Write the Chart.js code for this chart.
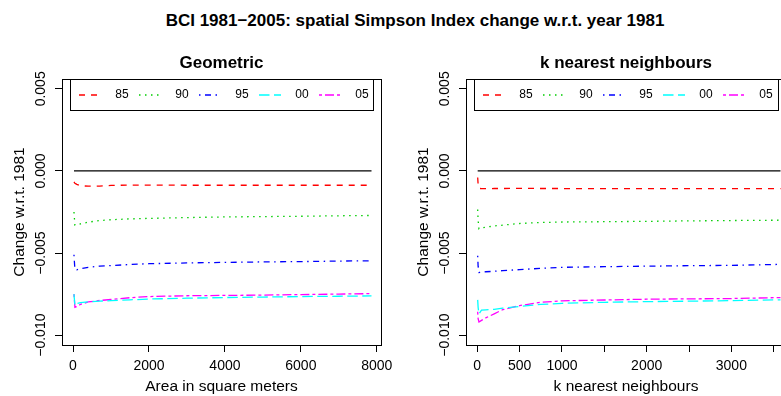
<!DOCTYPE html>
<html>
<head>
<meta charset="utf-8">
<title>BCI Simpson index change</title>
<script src="https://cdn.jsdelivr.net/npm/chart.js@4.4.1/dist/chart.umd.min.js"></script>
<style>
  html, body { margin: 0; padding: 0; background: #fff; overflow: hidden; }
  body { width: 781px; height: 396px; position: relative; }
  #main-title {
    position: absolute; left: 0; top: 10px; width: 830px; text-align: center;
    font: bold 17px "Liberation Sans", Arial, sans-serif; line-height: 21px; color: #000;
  }
  canvas { position: absolute; top: 0; }
  #geo-chart { left: 0; }
  #knn-chart { left: 404px; }
</style>
</head>
<body>
<div id="main-title">BCI 1981−2005: spatial Simpson Index change w.r.t. year 1981</div>
<canvas id="geo-chart" width="404" height="396"></canvas>
<canvas id="knn-chart" width="405" height="396"></canvas>
<script>
// DATA

const seriesLabels = ["85", "90", "95", "00", "05"];
const seriesColors = ["#FF0000", "#00CD00", "#0000FF", "#00FFFF", "#FF00FF"];
const seriesDashes = [[6, 6], [1.5, 4.5], [1.5, 4.5, 6, 4.5], [10.5, 4.5], [3, 3, 9, 3]];

const yTicks = [-0.010, -0.005, 0.000, 0.005];

// Geometric panel: area in square meters
const geoArea = [25, 50, 100, 200, 400, 700, 1000, 1500, 2000, 3000, 4000, 5000, 6000, 7000, 7860];
const geoBase = [0, 0, 0, 0, 0, 0, 0, 0, 0, 0, 0, 0, 0, 0, 0];
const geo85 = [-0.00067, -0.00075, -0.00082, -0.00090, -0.00093, -0.00092, -0.00088, -0.00086, -0.00086, -0.00087, -0.00087, -0.00087, -0.00087, -0.00087, -0.00087];
const geo90 = [-0.00250, -0.00330, -0.00330, -0.00322, -0.00312, -0.00302, -0.00297, -0.00292, -0.00289, -0.00284, -0.00280, -0.00278, -0.00276, -0.00273, -0.00271];
const geo95 = [-0.00510, -0.00600, -0.00602, -0.00595, -0.00587, -0.00580, -0.00576, -0.00570, -0.00565, -0.00560, -0.00557, -0.00554, -0.00552, -0.00549, -0.00547];
const geo00 = [-0.00750, -0.00820, -0.00808, -0.00802, -0.00797, -0.00793, -0.00790, -0.00785, -0.00780, -0.00775, -0.00771, -0.00768, -0.00765, -0.00763, -0.00761];
const geo05 = [-0.00750, -0.00830, -0.00826, -0.00812, -0.00798, -0.00789, -0.00783, -0.00772, -0.00765, -0.00760, -0.00758, -0.00756, -0.00753, -0.00750, -0.00747];
const geoTicks = [0, 2000, 4000, 6000, 8000];
const geoTickLabels = ["0", "2000", "4000", "6000", "8000"];

// k nearest neighbours panel
const knnK = [5, 10, 20, 50, 100, 200, 300, 500, 750, 1000, 1500, 2000, 2500, 3000, 3580];
const knnBase = [0, 0, 0, 0, 0, 0, 0, 0, 0, 0, 0, 0, 0, 0, 0];
const knn85 = [-0.00040, -0.00080, -0.00106, -0.00108, -0.00108, -0.00107, -0.00107, -0.00106, -0.00107, -0.00107, -0.00108, -0.00108, -0.00108, -0.00108, -0.00108];
const knn90 = [-0.00235, -0.00300, -0.00353, -0.00348, -0.00343, -0.00335, -0.00330, -0.00320, -0.00314, -0.00311, -0.00309, -0.00307, -0.00304, -0.00302, -0.00300];
const knn95 = [-0.00516, -0.00580, -0.00618, -0.00616, -0.00614, -0.00611, -0.00607, -0.00601, -0.00593, -0.00587, -0.00583, -0.00580, -0.00577, -0.00575, -0.00569];
const knn00 = [-0.00785, -0.00830, -0.00870, -0.00848, -0.00846, -0.00843, -0.00836, -0.00825, -0.00813, -0.00806, -0.00800, -0.00796, -0.00793, -0.00790, -0.00785];
const knn05 = [-0.00857, -0.00900, -0.00920, -0.00910, -0.00895, -0.00870, -0.00845, -0.00820, -0.00800, -0.00791, -0.00786, -0.00781, -0.00779, -0.00777, -0.00771];
const knnTicks = [0, 500, 1000, 1500, 2000, 2500, 3000, 3500];
const knnTickLabels = ["0", "500", "1000", "", "2000", "", "3000", ""];

const FONT = "'Liberation Sans', Arial, sans-serif";
Chart.defaults.font.family = FONT;
Chart.defaults.color = "#000";

function toPoints(xs, ys) {
  return xs.map((x, i) => ({ x: x, y: ys[i] }));
}

// R style box around the plot region + horizontal legend at the top
const rBoxPlugin = {
  id: "rBox",
  afterDatasetsDraw(chart) {
    const { ctx, chartArea: a } = chart;
    ctx.save();
    ctx.strokeStyle = "#000";
    ctx.lineWidth = 1;
    ctx.strokeRect(Math.round(a.left) + 0.5, Math.round(a.top) + 0.5,
      Math.round(a.right - a.left), Math.round(a.bottom - a.top));

    // legend
    const left = Math.round(a.left) + 8;
    const right = Math.round(a.right) - 8;
    const top = Math.round(a.top);
    ctx.strokeRect(left + 0.5, top + 0.5, right - left, 31);
    const yMid = top + 16;
    seriesLabels.forEach((label, k) => {
      const cx = left + 20 + 60 * k;
      ctx.beginPath();
      ctx.strokeStyle = seriesColors[k];
      ctx.lineWidth = 1.6;
      ctx.setLineDash(seriesDashes[k]);
      ctx.moveTo(cx - 11, yMid);
      ctx.lineTo(cx + 11, yMid);
      ctx.stroke();
      ctx.setLineDash([]);
      ctx.fillStyle = "#000";
      ctx.font = "12px " + FONT;
      ctx.textAlign = "center";
      ctx.textBaseline = "middle";
      ctx.fillText(label, cx + 32, yMid);
    });
    ctx.restore();
  }
};

function makePanel(canvasId, title, xTitle, xs, base, series, xMin, xMax, xTicks, xLabels) {
  const ctx = document.getElementById(canvasId).getContext("2d");

  // 1981 reference line (change = 0)
  const datasets = [{
    label: "81",
    data: toPoints(xs, base),
    borderColor: "#000",
    borderWidth: 1.3,
    borderDash: []
  }];
  series.forEach((ys, i) => {
    datasets.push({
      label: seriesLabels[i],
      data: toPoints(xs, ys),
      borderColor: seriesColors[i],
      borderWidth: 1.3,
      borderDash: seriesDashes[i]
    });
  });

  return new Chart(ctx, {
    type: "line",
    data: { datasets: datasets },
    plugins: [rBoxPlugin],
    options: {
      responsive: false,
      animation: false,
      events: [],
      elements: { point: { radius: 0 }, line: { tension: 0, fill: false } },
      layout: { padding: { left: 0, right: 23, top: 0, bottom: 0 } },
      plugins: {
        legend: { display: false },
        tooltip: { enabled: false },
        title: {
          display: true,
          text: title,
          fullSize: false,
          color: "#000",
          font: { size: 17, weight: "bold" },
          padding: { top: 52.8, bottom: 5.8 }
        }
      },
      scales: {
        x: {
          type: "linear",
          min: xMin,
          max: xMax,
          afterBuildTicks: s => { s.ticks = xTicks.map(v => ({ value: v })); },
          afterFit: s => { s.height = 51; },
          ticks: {
            autoSkip: false,
            maxRotation: 0,
            padding: 6,
            font: { size: 14 },
            callback: (value) => xLabels[xTicks.indexOf(value)]
          },
          grid: { drawOnChartArea: false, drawTicks: true, tickLength: 7, tickColor: "#000" },
          border: { display: true, color: "#000" },
          title: { display: true, text: xTitle, font: { size: 15.5 }, padding: { top: 0, bottom: 0 } }
        },
        y: {
          min: -0.0106,
          max: 0.0056,
          afterBuildTicks: s => { s.ticks = yTicks.map(v => ({ value: v })); },
          afterFit: s => { s.width = 62; },
          ticks: {
            minRotation: 90,
            maxRotation: 90,
            crossAlign: "center",
            padding: -7.6,
            font: { size: 14 },
            callback: (value) => value.toFixed(3).replace("-", "\u2212")
          },
          grid: { drawOnChartArea: false, drawTicks: true, tickLength: 7, tickColor: "#000" },
          border: { display: true, color: "#000" },
          title: { display: true, text: "Change w.r.t. 1981", font: { size: 15.5 }, padding: { top: 10.7, bottom: 0 } }
        }
      }
    }
  });
}

makePanel("geo-chart", "Geometric", "Area in square meters", geoArea, geoBase,
  [geo85, geo90, geo95, geo00, geo05], -290, 8110, geoTicks, geoTickLabels);

makePanel("knn-chart", "k nearest neighbours", "k nearest neighbours", knnK, knnBase,
  [knn85, knn90, knn95, knn00, knn05], -133, 3645, knnTicks, knnTickLabels);
</script>
</body>
</html>
